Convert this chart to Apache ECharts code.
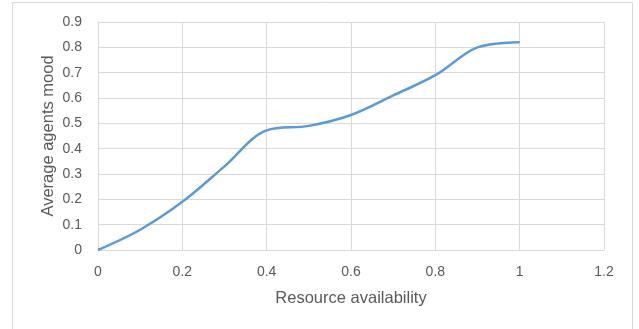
<!DOCTYPE html>
<html><head><meta charset="utf-8">
<script src="https://cdn.jsdelivr.net/npm/echarts@6/dist/echarts.min.js"></script>
<style>html,body{margin:0;padding:0;background:#fff}#c{width:639px;height:329px}</style>
</head><body><div id="c"></div>
<script>
const xValues = [0, 0.1, 0.2, 0.3, 0.4, 0.5, 0.6, 0.7, 0.8, 0.9, 1.0];
const moodValues = [0, 0.08, 0.19, 0.33, 0.472, 0.49, 0.533, 0.61, 0.69, 0.80, 0.82];
const xTitle = 'Resource availability';
const yTitle = 'Average agents mood';

const chart = echarts.init(document.getElementById('c'), null, {renderer: 'canvas'});
const txt = '#595959';
const font = 'Liberation Sans';
chart.setOption({
  animation: false,
  graphic: [{type: 'rect', shape: {x: 12.5, y: 2.5, width: 620, height: 340}, style: {fill: 'none', stroke: '#d9d9d9', lineWidth: 1}, silent: true}],
  grid: {left: 98, right: 35, top: 22, bottom: 79, containLabel: false},
  xAxis: {
    type: 'value', min: 0, max: 1.2, interval: 0.2,
    name: xTitle, nameLocation: 'middle', nameGap: 40, nameMoveOverlap: false,
    nameTextStyle: {color: txt, fontSize: 16.5, fontFamily: font},
    axisLine: {show: true, lineStyle: {color: '#d9d9d9'}},
    axisTick: {show: false},
    splitLine: {show: true, lineStyle: {color: '#d9d9d9'}},
    axisLabel: {color: txt, fontSize: 14, fontFamily: font, margin: 15}
  },
  yAxis: {
    type: 'value', min: 0, max: 0.9, interval: 0.1,
    name: yTitle, nameLocation: 'middle', nameGap: 41, nameMoveOverlap: false,
    nameTextStyle: {color: txt, fontSize: 16.5, fontFamily: font},
    axisLine: {show: true, lineStyle: {color: '#d9d9d9'}},
    axisTick: {show: false},
    splitLine: {show: true, lineStyle: {color: '#d9d9d9'}},
    axisLabel: {color: txt, fontSize: 14, fontFamily: font, margin: 16}
  },
  series: [{
    type: 'line', data: xValues.map((x, i) => [x, moodValues[i]]),
    smooth: 0.35, showSymbol: false,
    lineStyle: {color: '#5b9bd5', width: 2.5}
  }]
});
</script></body></html>
